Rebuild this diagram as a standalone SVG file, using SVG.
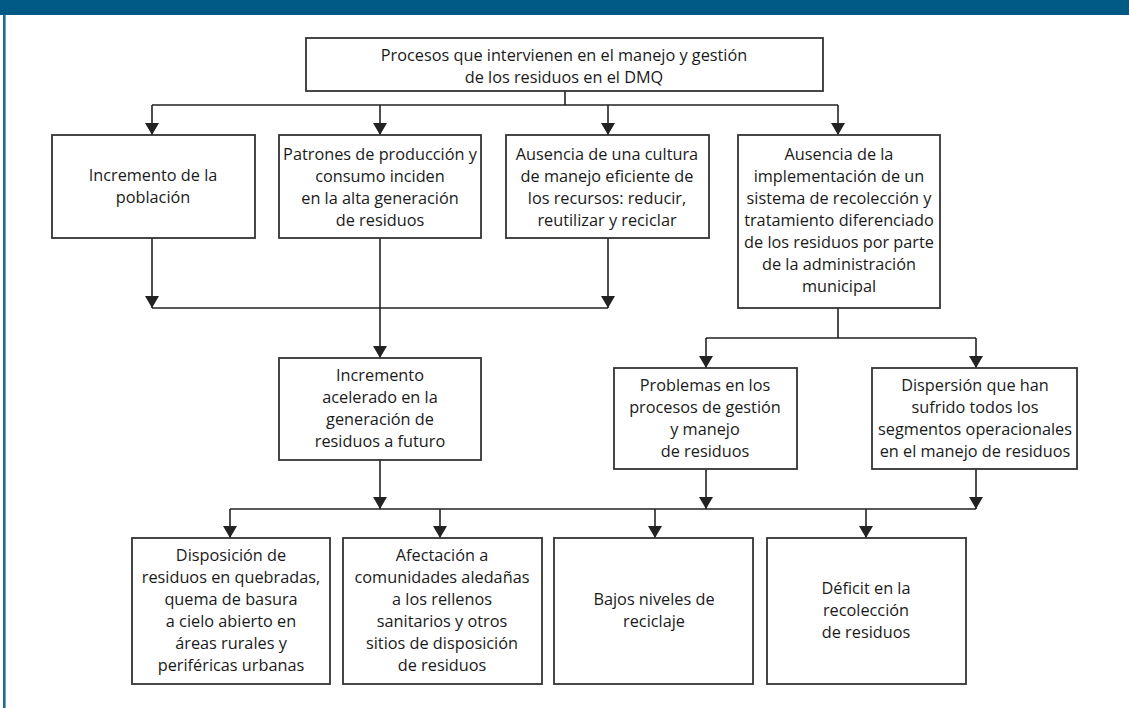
<svg xmlns="http://www.w3.org/2000/svg" width="1129" height="708" viewBox="0 0 1129 708">
<defs>
<marker id="ah" markerUnits="userSpaceOnUse" markerWidth="14" markerHeight="13" refX="7" refY="12" orient="0" viewBox="0 0 14 13">
<path d="M0 0 L14 0 L7 12 Z" fill="#222"/>
</marker>
<style>
.box{fill:#fff;stroke:#333;stroke-width:1.8}
.t{font-family:"Open Sans","Noto Sans","Liberation Sans",sans-serif;font-size:16.3px;fill:#1a1a1a;text-anchor:middle}
.c{fill:none;stroke:#222;stroke-width:1.6}
</style>
</defs>
<rect x="0" y="0" width="1129" height="708" fill="#fff"/>
<rect x="0" y="0" width="1129" height="15" fill="#005a85"/>
<rect x="3" y="15" width="2.6" height="693" fill="#1a6a9a"/>

<g id="connectors">
<path class="c" d="M565 91 V105 M152 105 H838"/>
<line class="c" x1="152" y1="105" x2="152" y2="135" marker-end="url(#ah)"/>
<line class="c" x1="380" y1="105" x2="380" y2="135" marker-end="url(#ah)"/>
<line class="c" x1="608" y1="105" x2="608" y2="135" marker-end="url(#ah)"/>
<line class="c" x1="838" y1="105" x2="838" y2="135" marker-end="url(#ah)"/>
<line class="c" x1="152" y1="238" x2="152" y2="308" marker-end="url(#ah)"/>
<line class="c" x1="608" y1="238" x2="608" y2="308" marker-end="url(#ah)"/>
<path class="c" d="M152 308 H608"/>
<line class="c" x1="380" y1="238" x2="380" y2="358" marker-end="url(#ah)"/>
<path class="c" d="M838 308 V338 M706 338 H976"/>
<line class="c" x1="706" y1="338" x2="706" y2="368" marker-end="url(#ah)"/>
<line class="c" x1="976" y1="338" x2="976" y2="368" marker-end="url(#ah)"/>
<line class="c" x1="380" y1="460" x2="380" y2="509" marker-end="url(#ah)"/>
<line class="c" x1="706" y1="469" x2="706" y2="509" marker-end="url(#ah)"/>
<line class="c" x1="976" y1="469" x2="976" y2="509" marker-end="url(#ah)"/>
<path class="c" d="M230 509 H976"/>
<line class="c" x1="230" y1="509" x2="230" y2="538" marker-end="url(#ah)"/>
<line class="c" x1="440" y1="509" x2="440" y2="538" marker-end="url(#ah)"/>
<line class="c" x1="655" y1="509" x2="655" y2="538" marker-end="url(#ah)"/>
<line class="c" x1="866" y1="509" x2="866" y2="538" marker-end="url(#ah)"/>
</g>

<g id="n-top">
<rect class="box" x="306" y="38" width="517" height="53"/>
<text class="t" x="564" y="61">Procesos que intervienen en el manejo y gestión</text>
<text class="t" x="564" y="83">de los residuos en el DMQ</text>
</g>

<g id="n-poblacion">
<rect class="box" x="52" y="135" width="203" height="103"/>
<text class="t" x="153" y="181">Incremento de la</text>
<text class="t" x="153" y="203">población</text>
</g>

<g id="n-patrones">
<rect class="box" x="279" y="135" width="202" height="103"/>
<text class="t" x="380" y="160">Patrones de producción y</text>
<text class="t" x="380" y="182">consumo inciden</text>
<text class="t" x="380" y="204">en la alta generación</text>
<text class="t" x="380" y="226">de residuos</text>
</g>

<g id="n-cultura">
<rect class="box" x="506" y="135" width="203" height="103"/>
<text class="t" x="607" y="160">Ausencia de una cultura</text>
<text class="t" x="607" y="182">de manejo eficiente de</text>
<text class="t" x="607" y="204">los recursos: reducir,</text>
<text class="t" x="607" y="226">reutilizar y reciclar</text>
</g>

<g id="n-sistema">
<rect class="box" x="738" y="135" width="202" height="173"/>
<text class="t" x="839" y="160">Ausencia de la</text>
<text class="t" x="839" y="182">implementación de un</text>
<text class="t" x="839" y="204">sistema de recolección y</text>
<text class="t" x="839" y="226">tratamiento diferenciado</text>
<text class="t" x="839" y="248">de los residuos por parte</text>
<text class="t" x="839" y="270">de la administración</text>
<text class="t" x="839" y="292">municipal</text>
</g>

<g id="n-incremento">
<rect class="box" x="279" y="358" width="202" height="102"/>
<text class="t" x="380" y="381">Incremento</text>
<text class="t" x="380" y="403">acelerado en la</text>
<text class="t" x="380" y="425">generación de</text>
<text class="t" x="380" y="447">residuos a futuro</text>
</g>

<g id="n-problemas">
<rect class="box" x="614" y="368" width="183" height="101"/>
<text class="t" x="705" y="391">Problemas en los</text>
<text class="t" x="705" y="413">procesos de gestión</text>
<text class="t" x="705" y="435">y manejo</text>
<text class="t" x="705" y="457">de residuos</text>
</g>

<g id="n-dispersion">
<rect class="box" x="872" y="368" width="205" height="101"/>
<text class="t" x="975" y="391">Dispersión que han</text>
<text class="t" x="975" y="413">sufrido todos los</text>
<text class="t" x="975" y="435">segmentos operacionales</text>
<text class="t" x="975" y="457">en el manejo de residuos</text>
</g>

<g id="n-disposicion">
<rect class="box" x="132" y="538" width="198" height="146"/>
<text class="t" x="231" y="561">Disposición de</text>
<text class="t" x="231" y="583">residuos en quebradas,</text>
<text class="t" x="231" y="605">quema de basura</text>
<text class="t" x="231" y="627">a cielo abierto en</text>
<text class="t" x="231" y="649">áreas rurales y</text>
<text class="t" x="231" y="671">periféricas urbanas</text>
</g>

<g id="n-afectacion">
<rect class="box" x="343" y="538" width="199" height="146"/>
<text class="t" x="442" y="561">Afectación a</text>
<text class="t" x="442" y="583">comunidades aledañas</text>
<text class="t" x="442" y="605">a los rellenos</text>
<text class="t" x="442" y="627">sanitarios y otros</text>
<text class="t" x="442" y="649">sitios de disposición</text>
<text class="t" x="442" y="671">de residuos</text>
</g>

<g id="n-reciclaje">
<rect class="box" x="554" y="538" width="199" height="146"/>
<text class="t" x="654" y="605">Bajos niveles de</text>
<text class="t" x="654" y="627">reciclaje</text>
</g>

<g id="n-deficit">
<rect class="box" x="767" y="538" width="199" height="146"/>
<text class="t" x="866" y="594">Déficit en la</text>
<text class="t" x="866" y="616">recolección</text>
<text class="t" x="866" y="638">de residuos</text>
</g>
</svg>
